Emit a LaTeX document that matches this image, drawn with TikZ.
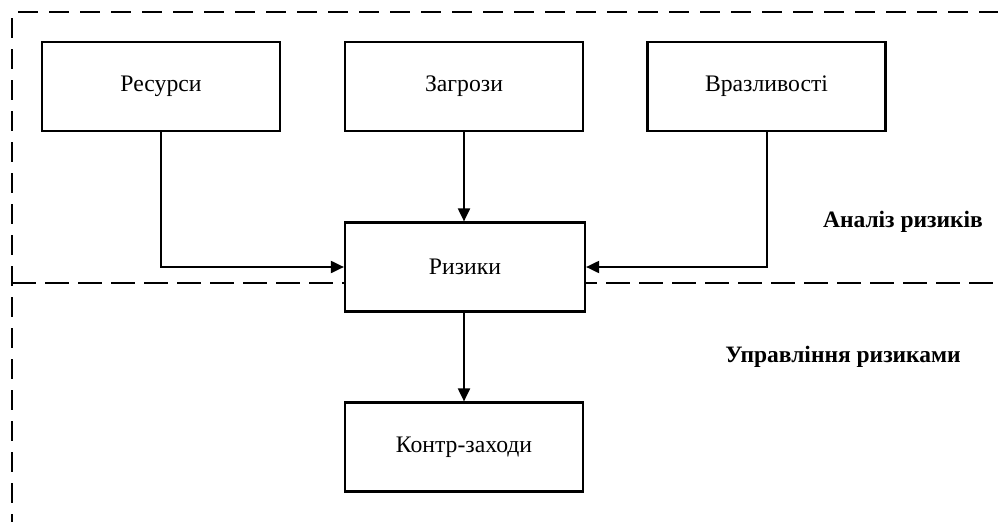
\documentclass[tikz,border=0pt]{standalone}
\usepackage{fontspec}
\setmainfont{Liberation Serif}
\usetikzlibrary{arrows.meta}
\begin{document}
\begin{tikzpicture}[x=1pt,y=-1pt,
  box/.style={draw,line width=2.2pt,fill=white,minimum width=238pt,minimum height=89pt,font=\fontsize{23.7}{28}\selectfont,inner sep=0pt},
  conn/.style={line width=2pt,-{Triangle[length=13pt,width=12pt]}},
  region/.style={line width=2.2pt,dash pattern=on 20pt off 11pt},
  lbl/.style={font=\bfseries\fontsize{23.5}{28}\selectfont}]
\useasboundingbox (0,0) rectangle (998,522);
\draw[region] (18,12) -- (998,12);
\draw[region] (12,18) -- (12,522);
\draw[region,dash pattern=on 24pt off 9pt] (12,283) -- (998,283);
\node[box] (res) at (161,86.5) {Ресурси};
\node[box] (zag) at (464,86.5) {Загрози};
\node[box] (vra) at (766.5,86.5) {Вразливості};
\node[box,minimum width=240pt] (riz) at (465,267) {Ризики};
\node[box] (kon) at (464,447) {Контр-заходи};
\draw[conn] (res.south) |- (riz.west);
\draw[conn] (zag.south) -- (zag.south |- riz.north);
\draw[conn] (vra.south) |- (riz.east);
\draw[conn] (riz.south -| kon.north) -- (kon.north);
\node[lbl] (a) at (903,222) {Аналіз ризиків};
\node[lbl] (u) at (843,357) {Управління ризиками};
\end{tikzpicture}
\end{document}
